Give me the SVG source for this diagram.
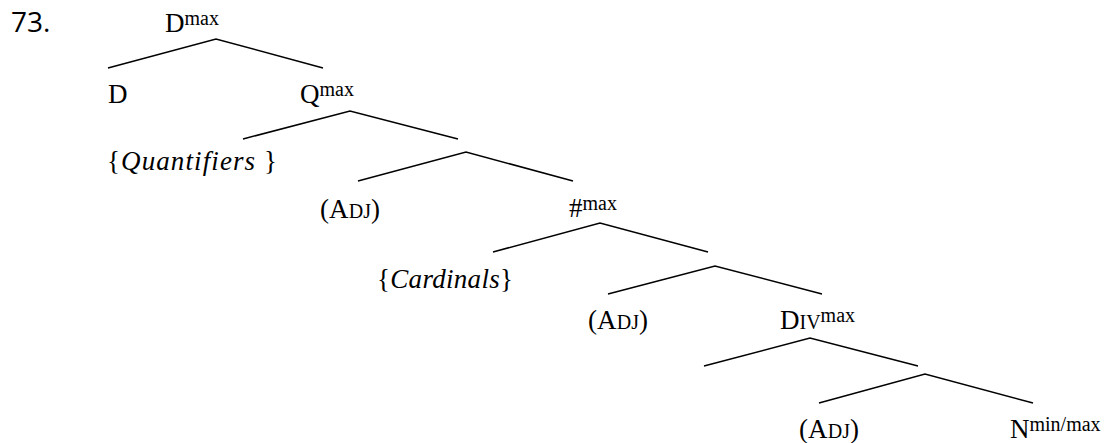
<svg xmlns="http://www.w3.org/2000/svg" width="1104" height="443" viewBox="0 0 1104 443">
  <style>
    .lbl { font-family: "Liberation Serif", "DejaVu Serif", serif; font-size: 27px; fill: #000; }
    .num { font-family: "Open Sans", "Liberation Sans", sans-serif; font-size: 28px; fill: #000; }
    .sup { font-size: 20px; }
    .sc { font-size: 20px; }
    .it { font-style: italic; }
    .edge { fill: none; stroke: #000; stroke-width: 1.5; }
  </style>
  <rect width="1104" height="443" fill="#fff"/>

  <!-- example number -->
  <text class="num" x="11" y="32">73.</text>

  <!-- branches -->
  <g id="connectors">
    <polyline class="edge" points="108,68 216,39 323,68"/>
    <polyline class="edge" points="243,139 350,111 458,139"/>
    <polyline class="edge" points="358,181 466,152 573,181"/>
    <polyline class="edge" points="493,252 600,223 708,252"/>
    <polyline class="edge" points="608,294 715,266 822,294"/>
    <polyline class="edge" points="704,366 810,338 918,366"/>
    <polyline class="edge" points="819,403 925,374 1033,403"/>
  </g>

  <g id="n-dmax"><text class="lbl" x="165" y="32">D<tspan class="sup" dy="-7">max</tspan></text></g>
  <g id="n-d"><text class="lbl" x="108" y="103">D</text></g>
  <g id="n-qmax"><text class="lbl" x="300" y="103">Q<tspan class="sup" dy="-7">max</tspan></text></g>
  <g id="n-quant"><text class="lbl" x="107" y="170" textLength="170">{<tspan class="it">Quantifiers </tspan>}</text></g>
  <g id="n-adj1"><text class="lbl" x="320" y="218" textLength="60">(A<tspan class="sc">DJ</tspan>)</text></g>
  <g id="n-nummax"><text class="lbl" x="569" y="217">#<tspan class="sup" dy="-7">max</tspan></text></g>
  <g id="n-card"><text class="lbl" x="377" y="288" textLength="136">{<tspan class="it">Cardinals</tspan>}</text></g>
  <g id="n-adj2"><text class="lbl" x="588" y="329" textLength="60">(A<tspan class="sc">DJ</tspan>)</text></g>
  <g id="n-divmax"><text class="lbl" x="780" y="329">D<tspan class="sc">IV</tspan><tspan class="sup" dy="-7">max</tspan></text></g>
  <g id="n-adj3"><text class="lbl" x="799" y="438" textLength="60">(A<tspan class="sc">DJ</tspan>)</text></g>
  <g id="n-nmax"><text class="lbl" x="1010" y="438">N<tspan class="sup" dy="-7">min/max</tspan></text></g>
</svg>
